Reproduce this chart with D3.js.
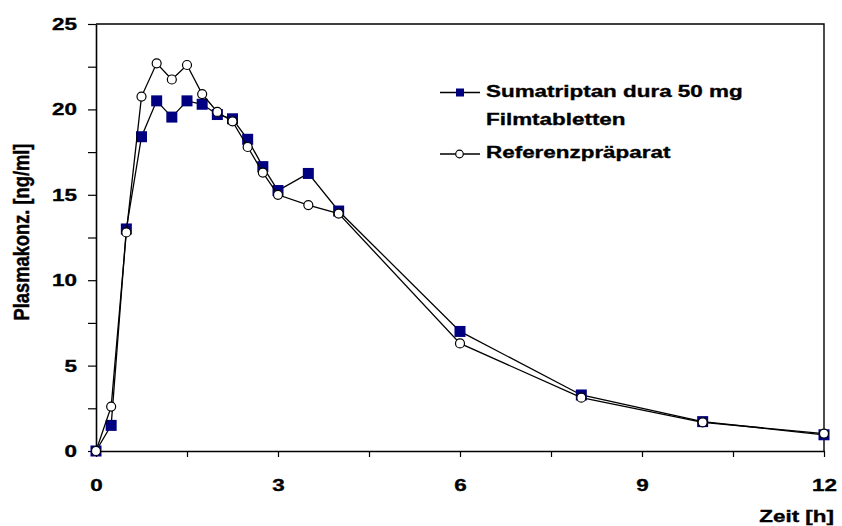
<!DOCTYPE html>
<html>
<head>
<meta charset="utf-8">
<script src="https://cdn.jsdelivr.net/npm/d3@7"></script>
<style>
  body { margin: 0; background: #fff; }
  text { font-family: "Liberation Sans", Arial, sans-serif; font-weight: bold; fill: #000; stroke: #000; stroke-width: 0.35px; }
</style>
</head>
<body>
<svg id="vis"></svg>
<script>
const WIDTH = 842;
const HEIGHT = 526;

// sampling times [h]
const times = [0, 0.25, 0.5, 0.75, 1, 1.25, 1.5, 1.75, 2, 2.25, 2.5, 2.75, 3, 3.5, 4, 6, 8, 10, 12];
// Sumatriptan dura 50 mg Filmtabletten
const testValues = [0, 1.5, 13.0, 18.4, 20.5, 19.55, 20.5, 20.3, 19.7, 19.45, 18.25, 16.65, 15.25, 16.25, 14.05, 7.0, 3.28, 1.72, 0.95];
// Referenzpräparat
const refValues = [0, 2.6, 12.8, 20.75, 22.7, 21.75, 22.6, 20.9, 19.85, 19.3, 17.8, 16.3, 15.0, 14.4, 13.9, 6.3, 3.12, 1.68, 1.02];

const xMajor = [0, 3, 6, 9, 12];
const xMinor = [1.5, 4.5, 7.5, 10.5];
const yTicks = [0, 5, 10, 15, 20, 25];
const yMinor = [2.5, 7.5, 12.5, 17.5, 22.5];

const legendLabels = [["Sumatriptan dura 50 mg", "Filmtabletten"], ["Referenzpräparat"]];

const PLOT_L = 96, PLOT_R = 824, PLOT_T = 24, PLOT_B = 451;
const FS = 17;      // font size
const SX = 1.32;    // the original text is a bit wide

const x = d3.scaleLinear().domain([0, 12]).range([PLOT_L, PLOT_R]);
const y = d3.scaleLinear().domain([0, 25]).range([PLOT_B, PLOT_T]);

const svg = d3.select("#vis").attr("width", WIDTH).attr("height", HEIGHT);

function label(px, py, txt, anchor) {
    return svg.append("text")
        .attr("transform", `translate(${px},${py}) scale(${SX},1)`)
        .attr("text-anchor", anchor || "start")
        .attr("font-size", FS)
        .text(txt);
}

// frame (top + right)
svg.append("path")
    .attr("d", `M${PLOT_L},${PLOT_T}H${PLOT_R}V${PLOT_B}`)
    .attr("fill", "none").attr("stroke", "#000").attr("stroke-width", 1.4);

// y axis
const yAxis = svg.append("g")
    .attr("transform", `translate(${PLOT_L},0)`)
    .call(d3.axisLeft(y).tickValues(yTicks.concat(yMinor)).tickSize(8).tickSizeOuter(0)
        .tickFormat(d => yTicks.includes(d) ? d : ""));
yAxis.select(".domain").attr("stroke-width", 1.6);
yAxis.selectAll(".tick line").attr("stroke-width", 1.2);
yAxis.selectAll(".tick text")
    .attr("x", 0).attr("transform", `translate(-19,0) scale(${SX},1)`)
    .attr("font-size", FS).attr("font-family", null);

// x axis
const xAxis = svg.append("g")
    .attr("transform", `translate(0,${PLOT_B})`)
    .call(d3.axisBottom(x).tickValues(xMajor.concat(xMinor)).tickSize(6).tickSizeOuter(0)
        .tickFormat(d => xMajor.includes(d) ? d : ""));
xAxis.select(".domain").attr("stroke-width", 1.6);
xAxis.selectAll(".tick line").attr("stroke-width", 1.2);
xAxis.selectAll(".tick text")
    .attr("y", 0).attr("transform", `translate(0,28) scale(${SX},1)`)
    .attr("font-size", FS).attr("font-family", null);

// axis titles
svg.append("text")
    .attr("transform", `translate(29,232) scale(1.25,1) rotate(-90)`)
    .attr("text-anchor", "middle").attr("font-size", 18.3)
    .text("Plasmakonz. [ng/ml]");
label(834, 522, "Zeit [h]", "end");

const line = d3.line().x((d, i) => x(times[i])).y(d => y(d));

// test series
svg.append("path").datum(testValues)
    .attr("d", line).attr("fill", "none").attr("stroke", "#000").attr("stroke-width", 1.3);
svg.selectAll(".sq").data(testValues).enter().append("rect")
    .attr("class", "sq")
    .attr("x", (d, i) => x(times[i]) - 5.5)
    .attr("y", d => y(d) - 5.5)
    .attr("width", 11).attr("height", 11)
    .attr("fill", "#000080");

// reference series
svg.append("path").datum(refValues)
    .attr("d", line).attr("fill", "none").attr("stroke", "#000").attr("stroke-width", 1.3);
svg.selectAll(".ci").data(refValues).enter().append("circle")
    .attr("class", "ci")
    .attr("cx", (d, i) => x(times[i]))
    .attr("cy", d => y(d))
    .attr("r", 4.5)
    .attr("fill", "#fff").attr("stroke", "#000").attr("stroke-width", 1.2);

// legend
svg.append("line").attr("x1", 440).attr("x2", 480).attr("y1", 92.5).attr("y2", 92.5)
    .attr("stroke", "#000").attr("stroke-width", 1.3);
svg.append("rect").attr("x", 456).attr("y", 88.5).attr("width", 8).attr("height", 8).attr("fill", "#000080");
label(486, 97, legendLabels[0][0]);
label(486, 124.5, legendLabels[0][1]);
svg.append("line").attr("x1", 440).attr("x2", 480).attr("y1", 154).attr("y2", 154)
    .attr("stroke", "#000").attr("stroke-width", 1.3);
svg.append("circle").attr("cx", 459.5).attr("cy", 154).attr("r", 3.8)
    .attr("fill", "#fff").attr("stroke", "#000").attr("stroke-width", 1.2);
label(486, 158, legendLabels[1][0]);
</script>
</body>
</html>
